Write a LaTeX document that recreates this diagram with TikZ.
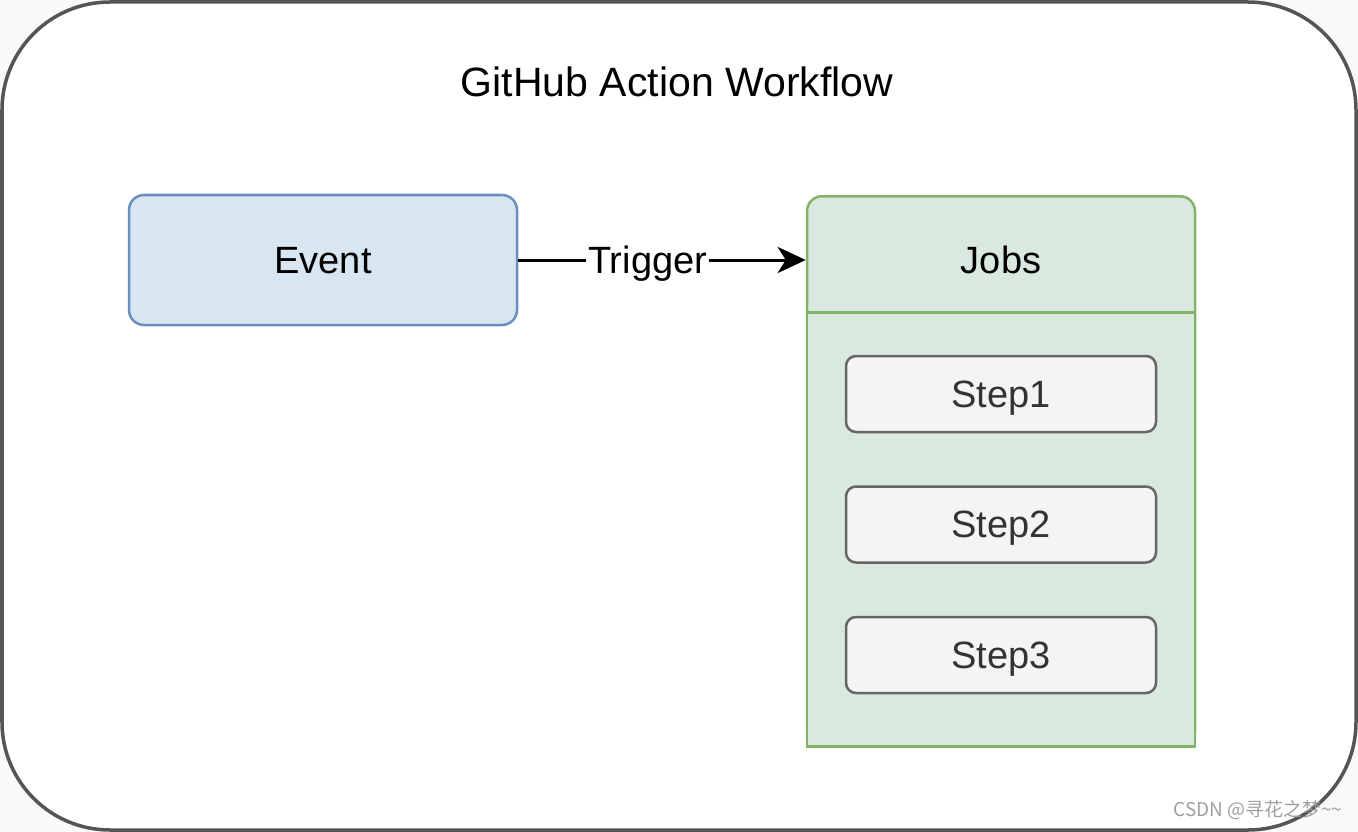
\documentclass[tikz,border=0pt]{standalone}
\usepackage{fontspec}
\setmainfont{Liberation Sans}
\newfontfamily\cjkfont{Noto Sans CJK SC}
\usepackage{tikz}
\usetikzlibrary{arrows.meta, positioning}
\definecolor{pagebg}{HTML}{FAF9F7}
\definecolor{frameline}{HTML}{555555}
\definecolor{evfill}{HTML}{D8E6F1}
\definecolor{evline}{HTML}{6C8EBF}
\definecolor{jobfill}{HTML}{DAE9E0}
\definecolor{jobline}{HTML}{82B366}
\definecolor{stepfill}{HTML}{F4F4F4}
\definecolor{stepline}{HTML}{666666}
\definecolor{steptext}{HTML}{333333}
\definecolor{wmgray}{HTML}{A0A0A0}
\tikzset{
  lbl/.style     = {font=\fontsize{38}{44}\selectfont, text depth=0pt},
  frame/.style   = {draw=frameline, fill=white, line width=3.5pt, rounded corners=108pt},
  ev/.style      = {lbl, draw=evline, fill=evfill, line width=2.5pt, rounded corners=15pt,
                    minimum width=388pt, minimum height=130pt},
  lane/.style    = {draw=jobline, fill=jobfill, line width=2.5pt, minimum width=388pt},
  stepbox/.style = {lbl, draw=stepline, fill=stepfill, text=steptext, line width=2.5pt,
                    rounded corners=10pt, minimum width=310pt, minimum height=76pt},
  flow/.style    = {-{Stealth[length=28pt, width=26pt, inset=8pt]}, line width=3pt}
}
\begin{document}
\begin{tikzpicture}[x=1pt, y=-1pt, node distance=52pt]
  \useasboundingbox[fill=pagebg] (0,0) rectangle (1358,832);
  \draw[frame] (2,2) rectangle (1356,830);

  \node[font=\fontsize{41}{48}\selectfont] (title) at (677,82) {GitHub Action Workflow};
  \node[ev] (event) at (323,260) {Event};

  \node[lane, rounded corners=15pt, minimum height=550pt, anchor=north] (lane) at (1001,195) {};
  \node[lane, minimum height=434pt, below=116pt of lane.north, anchor=north] (body) {};
  \node[lbl] (jobs) at (lane.north |- event) {Jobs};

  \node[stepbox] (step1) at (1001,394) {Step1};
  \node[stepbox, below=of step1] (step2) {Step2};
  \node[stepbox, below=of step2] (step3) {Step3};

  \draw[flow] (event) -- node[lbl, fill=white, inner sep=2pt, pos=0.45] {Trigger} (event -| lane.west);

  \node[text=wmgray, font=\cjkfont\fontsize{19}{22}\selectfont, anchor=east] (mark) at (1346,810)
       {CSDN @寻花之梦\textasciitilde\textasciitilde};
\end{tikzpicture}
\end{document}
